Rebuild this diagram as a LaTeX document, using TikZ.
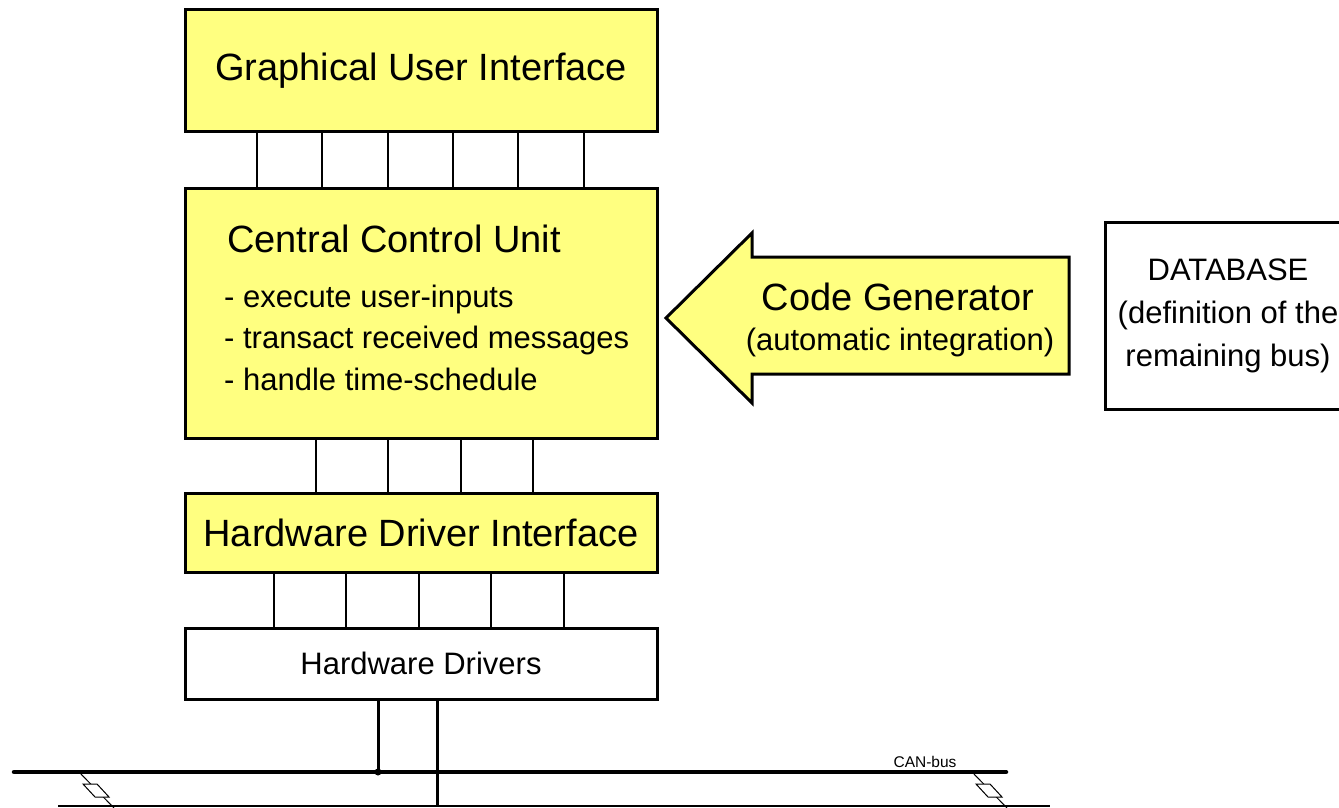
\documentclass[tikz,border=0pt]{standalone}
\usepackage{fontspec}
\setmainfont{Liberation Sans}
\usepackage{xcolor}
\usepackage{tikz}
\usetikzlibrary{positioning,calc}
\definecolor{boxyellow}{RGB}{255,255,128}
\tikzset{
    layer/.style={draw, line width=3pt, fill=boxyellow, inner sep=0pt},
    bigfont/.style={font=\fontsize{38}{44}\selectfont},
    smallfont/.style={font=\fontsize{31}{43}\selectfont},
    link/.style={line width=2pt},
    label/.style={inner sep=0pt, anchor=base}
}

\begin{document}
\begin{tikzpicture}[x=1pt, y=-1pt]
    \useasboundingbox (0,0) rectangle (1339,808);
    \clip (0,0) rectangle (1339,808);

    % software layers
    \node[layer, bigfont, minimum width=472pt, minimum height=121pt] (gui) at (421,70.5) {Graphical User Interface};
    \node[layer, minimum width=472pt, minimum height=250pt] (ccu) at (421,313) {};
    \node[layer, bigfont, minimum width=472pt, minimum height=79pt] (hdi) at (421,532.5) {Hardware Driver Interface};
    \node[layer, smallfont, fill=white, minimum width=472pt, minimum height=71pt] (hd) at (421,663.5) {Hardware Drivers};

    % text of the control unit
    \node[label, bigfont, anchor=base west] (ccutitle) at (227,252) {Central Control Unit};
    \node[label, smallfont, anchor=base west] (task1) at (224,307) {- execute user-inputs};
    \node[label, smallfont, anchor=base west] (task2) at (224,348) {- transact received messages};
    \node[label, smallfont, anchor=base west] (task3) at (224,390) {- handle time-schedule};

    % interfaces between the layers
    \foreach \x in {257,322,388,453,518,584}
        \draw[link] (\x,0 |- gui.south) -- (\x,0 |- ccu.north);
    \foreach \x in {316,388,461,533}
        \draw[link] (\x,0 |- ccu.south) -- (\x,0 |- hdi.north);
    \foreach \x in {274,346,419,491,564}
        \draw[link] (\x,0 |- hdi.south) -- (\x,0 |- hd.north);

    % code generator arrow
    \draw[line width=3pt, fill=boxyellow] (666,318) -- (752,233) -- (752,257) -- (1069,257)
        -- (1069,374) -- (752,374) -- (752,403) -- cycle;
    \node[label, bigfont] (codegen) at (898,310) {Code Generator};
    \node[label, smallfont] (codegensub) at (900,350) {(automatic integration)};

    % database
    \node[draw, line width=3pt, smallfont, align=center, minimum width=246pt, minimum height=187pt] (db) at (1228,316)
        {DATABASE\\(definition of the\\remaining bus)};

    % CAN bus
    \coordinate (busL) at (14,772);
    \coordinate (busR) at (1006,772);
    \coordinate (lineL) at (58,806);
    \coordinate (lineR) at (1050,806);
    \draw[line width=4.5pt, line cap=round] (busL) -- (busR);
    \draw[line width=2pt] (lineL) -- (lineR);
    \node[label, font=\fontsize{15.5}{18}\selectfont] (canbus) at (925,767) {CAN-bus};
    \draw[line width=3pt] (378,0 |- hd.south) -- (378,0 |- busL);
    \fill (378,0 |- busL) circle (3.5pt);
    \draw[line width=3pt] (437,0 |- hd.south) -- (437,0 |- lineR);

    % line breaks
    \foreach \bx in {80,973} {
        \draw[line width=1pt] (\bx,773) -- ++(34,35);
        \draw[line width=1pt, fill=white] (\bx+3,784) -- ++(14,0) -- ++(12,13) -- ++(-14,0) -- cycle;
    }
\end{tikzpicture}
\end{document}
